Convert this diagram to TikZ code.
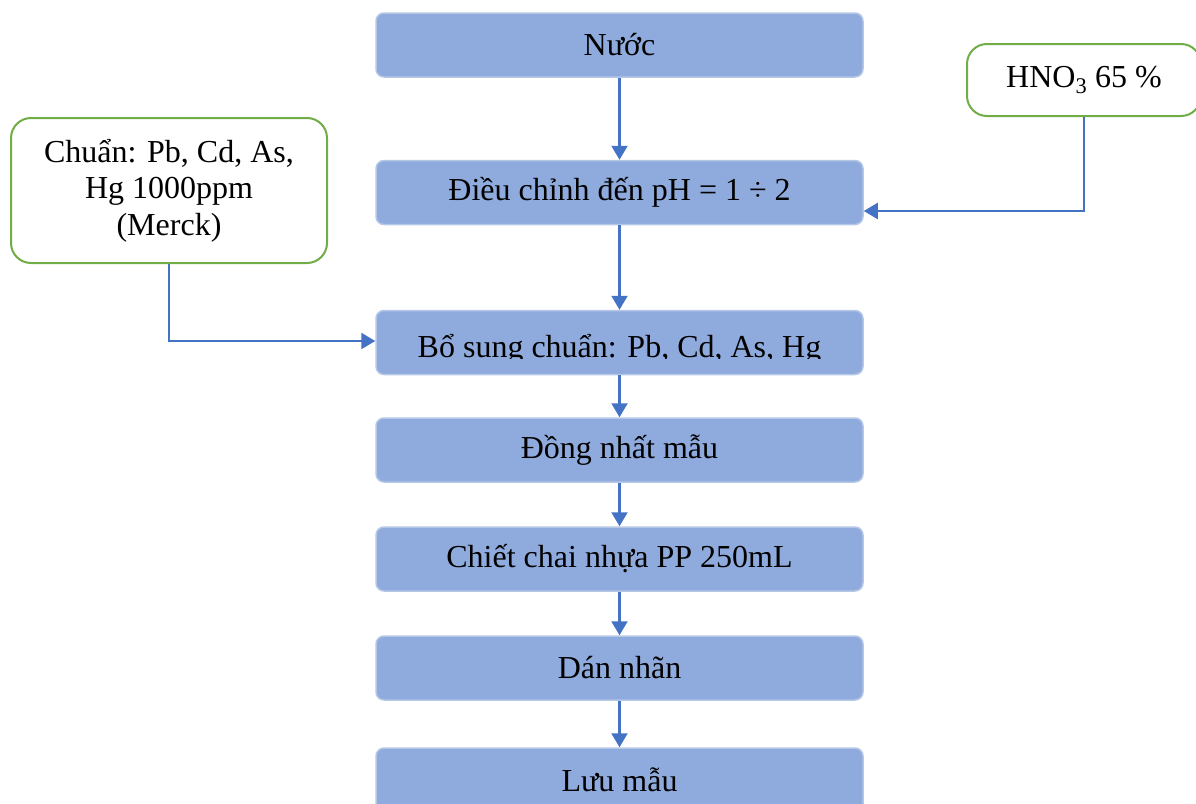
\documentclass[tikz,border=0pt]{standalone}
\usepackage{fontspec}
\setmainfont{Liberation Serif}
\usetikzlibrary{arrows.meta}

\definecolor{boxfill}{HTML}{8FAADC}
\definecolor{boxline}{HTML}{B4C7E7}
\definecolor{inline}{HTML}{70AD47}
\definecolor{flowline}{HTML}{4472C4}

\begin{document}
\begin{tikzpicture}[x=1pt, y=-1pt,
	stepbox/.style={draw=boxline, line width=1.5pt, fill=boxfill, rounded corners=8pt,
		minimum width=487pt, minimum height=64pt, inner sep=0pt},
	inbox/.style={draw=inline, line width=2pt, fill=white, rounded corners=20pt,
		align=center, inner sep=0pt},
	flow/.style={draw=flowline, line width=2.2pt, -{Triangle[width=16pt,length=14pt]}},
	font=\fontsize{32}{36.5}\selectfont]
	\useasboundingbox (0,0) rectangle (1196,803);
	\clip (0,0) rectangle (1196,803);
	% main steps
	\node [stepbox] (nuoc) at (619.5,45) {Nước};
	\node [stepbox] (dieuchinh) at (619.5,192.5) {Điều chỉnh đến pH = 1 ÷ 2};
	\node [stepbox] (bosung) at (619.5,342.5) {};
	\begin{scope}
		\clip ([yshift=-16pt]bosung.west) rectangle (bosung.north east);
		\node [anchor=base] at (619.5,357) {Bổ sung chuẩn: Pb, Cd, As, Hg};
	\end{scope}
	\node [stepbox] (dongnhat) at (619.5,450) {Đồng nhất mẫu};
	\node [stepbox] (chiet) at (619.5,559) {Chiết chai nhựa PP 250mL};
	\node [stepbox] (dannhan) at (619.5,668) {Dán nhãn};
	\node [stepbox] (luu) at (619.5,780) {Lưu mẫu};
	% inputs
	\node [inbox, minimum width=316pt, minimum height=145pt] (chuan) at (169,190.5)
		{Chuẩn: Pb, Cd, As,\\Hg 1000ppm\\(Merck)};
	\node [inbox, minimum width=234pt, minimum height=72pt] (hno) at (1084,80)
		{HNO\textsubscript{3} 65 \%};
	% arrows
	\draw [flow] (nuoc) -- (dieuchinh);
	\draw [flow] (dieuchinh) -- (bosung);
	\draw [flow] (bosung) -- (dongnhat);
	\draw [flow] (dongnhat) -- (chiet);
	\draw [flow] (chiet) -- (dannhan);
	\draw [flow] (dannhan) -- (luu);
	\draw [flow] (chuan.south) |- ([yshift=1.5pt]bosung.west);
	\draw [flow] (hno.south) |- ([yshift=-18.5pt]dieuchinh.east);
\end{tikzpicture}
\end{document}
